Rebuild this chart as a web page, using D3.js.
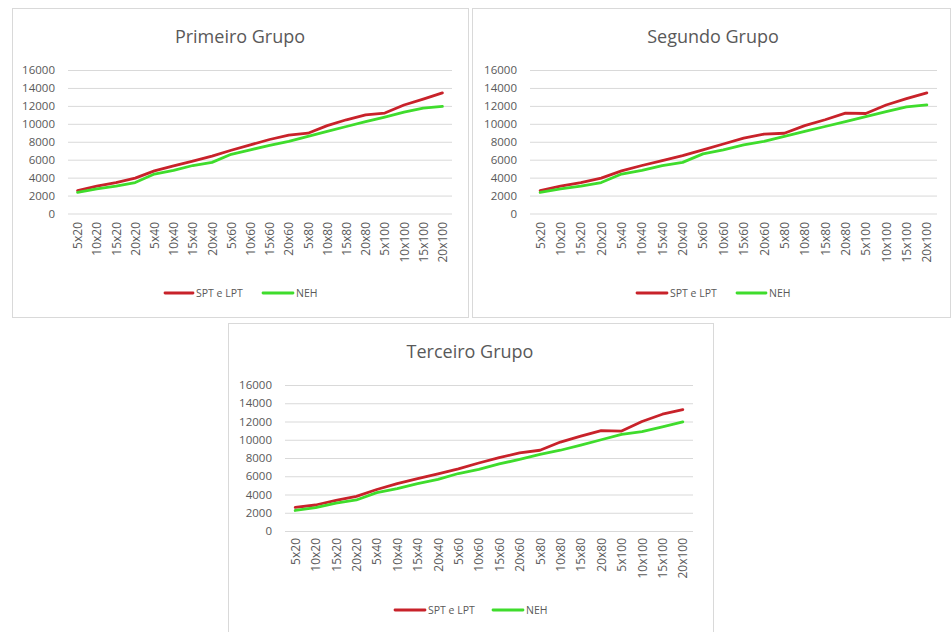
<!DOCTYPE html>
<html>
<head>
<meta charset="utf-8">
<script src="https://cdn.jsdelivr.net/npm/d3@7"></script>
<style>
  html, body { margin: 0; padding: 0; background: #ffffff; }
  svg { display: block; font-family: "Open Sans", "Noto Sans", sans-serif; }
</style>
</head>
<body>
<svg id="chart" width="951" height="632"></svg>
<script>
// ---- data ----
const categories = ["5x20","10x20","15x20","20x20","5x40","10x40","15x40","20x40",
  "5x60","10x60","15x60","20x60","5x80","10x80","15x80","20x80",
  "5x100","10x100","15x100","20x100"];
const yTicks = [0, 2000, 4000, 6000, 8000, 10000, 12000, 14000, 16000];
const seriesNames = ["SPT e LPT", "NEH"];
const titles = ["Primeiro Grupo", "Segundo Grupo", "Terceiro Grupo"];

const g1SptLpt = [2550, 3050, 3450, 3950, 4750, 5300, 5850, 6400, 7050, 7650,
  8250, 8750, 8950, 9800, 10450, 11000, 11200, 12100, 12750, 13450];
const g1Neh = [2350, 2750, 3050, 3450, 4400, 4800, 5350, 5700, 6600, 7100,
  7600, 8050, 8600, 9150, 9700, 10250, 10750, 11300, 11750, 11950];

const g2SptLpt = [2550, 3050, 3450, 3950, 4750, 5350, 5900, 6450, 7100, 7750,
  8400, 8850, 8950, 9800, 10450, 11200, 11150, 12100, 12800, 13450];
const g2Neh = [2350, 2750, 3050, 3450, 4400, 4800, 5350, 5700, 6650, 7100,
  7650, 8050, 8600, 9150, 9700, 10250, 10800, 11350, 11900, 12100];

const g3SptLpt = [2600, 2850, 3350, 3800, 4550, 5200, 5750, 6250, 6800, 7450,
  8050, 8550, 8850, 9750, 10400, 11000, 10950, 12000, 12800, 13300];
const g3Neh = [2250, 2550, 3050, 3400, 4200, 4650, 5200, 5650, 6300, 6750,
  7350, 7850, 8400, 8850, 9400, 10000, 10600, 10900, 11400, 11950];

const groups = [
  { title: titles[0], values: [g1SptLpt, g1Neh] },
  { title: titles[1], values: [g2SptLpt, g2Neh] },
  { title: titles[2], values: [g3SptLpt, g3Neh] }
];

// ---- layout / style ----
const colors = ["#c8222a", "#3fdc2c"];
const layouts = [
  { box: [12, 8, 456, 309], x0: 68, x1: 452, yTop: 70, yBot: 213.5, titleX: 240, titleY: 43,
    xlabTop: 222, legY: 293, leg: [[165, 193, 196], [263, 293, 296]] },
  { box: [472, 8, 478, 309], x0: 530, x1: 937, yTop: 70, yBot: 213.5, titleX: 713, titleY: 43,
    xlabTop: 222, legY: 293, leg: [[637, 667, 670], [737, 766, 769]] },
  { box: [228, 323, 485, 320], x0: 285, x1: 693, yTop: 385, yBot: 531, titleX: 470, titleY: 358,
    xlabTop: 538, legY: 610, leg: [[395, 425, 428], [493, 523, 526]] }
];

const svg = d3.select("#chart");
const textColor = "#595959";

groups.forEach((grp, gi) => {
  const L = layouts[gi];
  const g = svg.append("g");

  g.append("rect")
    .attr("x", L.box[0] + 0.5).attr("y", L.box[1] + 0.5)
    .attr("width", L.box[2]).attr("height", L.box[3])
    .attr("fill", "#ffffff").attr("stroke", "#d9d9d9").attr("stroke-width", 1);

  g.append("text")
    .attr("x", L.titleX).attr("y", L.titleY)
    .attr("text-anchor", "middle")
    .attr("font-size", 18)
    .attr("fill", textColor)
    .text(grp.title);

  const x = d3.scaleBand().domain(categories).range([L.x0, L.x1]);
  const y = d3.scaleLinear().domain([0, 16000]).range([L.yBot, L.yTop]);

  // y axis with gridlines
  const yAxis = d3.axisLeft(y).tickValues(yTicks).tickSize(-(L.x1 - L.x0)).tickPadding(13)
    .tickFormat(d3.format("d"));
  const yg = g.append("g").attr("transform", `translate(${L.x0},0)`).call(yAxis);
  yg.select(".domain").remove();
  yg.selectAll(".tick line").attr("stroke", "#d9d9d9").attr("stroke-width", 1);
  yg.selectAll(".tick text").attr("fill", textColor).attr("font-size", 11.5)
    .attr("font-family", "'Open Sans', sans-serif");

  // x axis labels (rotated)
  const xAxis = d3.axisBottom(x).tickSize(0).tickPadding(0);
  const xg = g.append("g").attr("transform", `translate(0,${L.yBot})`).call(xAxis);
  xg.select(".domain").remove();
  xg.selectAll(".tick text")
    .attr("fill", textColor).attr("font-size", 12)
    .attr("font-family", "'Open Sans', sans-serif")
    .attr("text-anchor", "end")
    .attr("dy", null)
    .attr("transform", `translate(4.5,${L.xlabTop - L.yBot}) rotate(-90)`)
    .attr("y", 0).attr("x", 0);

  // lines
  const line = d3.line()
    .x((d, i) => x(categories[i]) + x.bandwidth() / 2)
    .y(d => y(d));
  grp.values.forEach((vals, si) => {
    g.append("path")
      .datum(vals)
      .attr("d", line)
      .attr("fill", "none")
      .attr("stroke", colors[si])
      .attr("stroke-width", 2.8)
      .attr("stroke-linejoin", "round")
      .attr("stroke-linecap", "round");
  });

  // legend
  seriesNames.forEach((name, si) => {
    const p = L.leg[si];
    g.append("line")
      .attr("x1", p[0]).attr("x2", p[1])
      .attr("y1", L.legY).attr("y2", L.legY)
      .attr("stroke", colors[si]).attr("stroke-width", 2.8)
      .attr("stroke-linecap", "round");
    g.append("text")
      .attr("x", p[2]).attr("y", L.legY + 3.8)
      .attr("font-size", 10.5)
      .attr("fill", textColor)
      .text(name);
  });
});
</script>
</body>
</html>
